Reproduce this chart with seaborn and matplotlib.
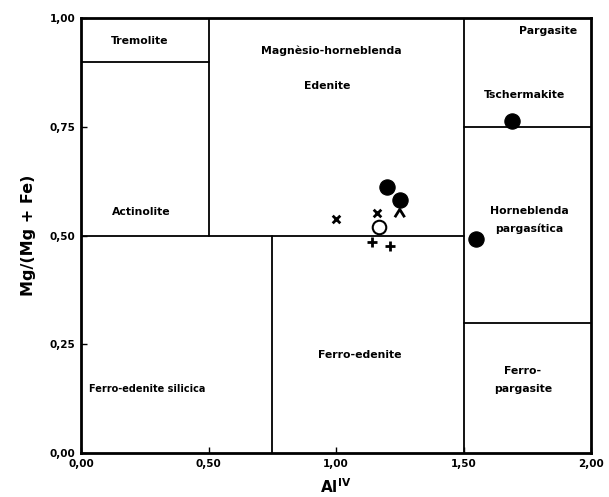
import matplotlib
matplotlib.use("Agg")
import matplotlib.pyplot as plt
import seaborn as sns
import pandas as pd
from matplotlib.path import Path

# --- data ---
filled_x = [1.20, 1.25, 1.55, 1.69]
filled_y = [0.612, 0.581, 0.491, 0.764]
open_x = [1.17]
open_y = [0.520]
cross_x = [1.00, 1.16]
cross_y = [0.538, 0.551]
plus_x = [1.14, 1.21]
plus_y = [0.484, 0.477]
caret_x = [1.25]
caret_y = [0.551]

x_ticks = [0.0, 0.5, 1.0, 1.5, 2.0]
x_ticklabels = ["0,00", "0,50", "1,00", "1,50", "2,00"]
y_ticks = [0.0, 0.25, 0.5, 0.75, 1.0]
y_ticklabels = ["0,00", "0,25", "0,50", "0,75", "1,00"]

# field boundaries: (x0, x1, y0, y1)
boundaries = [
    (0.0, 0.5, 0.9, 0.9),
    (0.5, 0.5, 0.5, 1.0),
    (0.0, 1.5, 0.5, 0.5),
    (0.75, 0.75, 0.0, 0.5),
    (1.5, 1.5, 0.0, 1.0),
    (1.5, 2.0, 0.75, 0.75),
    (1.5, 2.0, 0.3, 0.3),
]

field_names = ["Tremolite", "Magnèsio-horneblenda", "Edenite", "Pargasite",
               "Tschermakite", "Actinolite", "Horneblenda\npargasítica",
               "Ferro-edenite silicica", "Ferro-edenite", "Ferro-\npargasite"]
field_x = [0.23, 0.98, 0.965, 1.83, 1.74, 0.235, 1.757, 0.26, 1.094, 1.733]
field_y = [0.946, 0.924, 0.844, 0.970, 0.823, 0.554, 0.536, 0.147, 0.225, 0.168]
field_size = [7.8, 7.8, 7.8, 7.8, 7.8, 7.8, 7.8, 7.0, 7.8, 7.8]

sns.set_theme(style="white")
plt.rcParams['font.family'] = ['DejaVu Sans']
plt.rcParams['text.color'] = 'black'
plt.rcParams['axes.labelcolor'] = 'black'
plt.rcParams['xtick.color'] = 'black'
plt.rcParams['ytick.color'] = 'black'

fig = plt.figure(figsize=(6.09, 4.97), dpi=100)
ax = fig.add_axes([81/609, 44/497, 510/609, 435/497])

df_f = pd.DataFrame({"x": filled_x, "y": filled_y})
df_o = pd.DataFrame({"x": open_x, "y": open_y})
df_c = pd.DataFrame({"x": cross_x, "y": cross_y})
df_p = pd.DataFrame({"x": plus_x, "y": plus_y})
df_k = pd.DataFrame({"x": caret_x, "y": caret_y})

for (x0, x1, y0, y1) in boundaries:
    ax.plot([x0, x1], [y0, y1], color="black", lw=1.3, zorder=2)

sns.scatterplot(data=df_f, x="x", y="y", ax=ax, marker="o", s=120,
                color="black", edgecolor="black", zorder=3)
sns.scatterplot(data=df_o, x="x", y="y", ax=ax, marker="o", s=95,
                facecolor="white", edgecolor="black", linewidth=1.5, zorder=3)
sns.scatterplot(data=df_c, x="x", y="y", ax=ax, marker="x", s=30,
                color="black", linewidth=2.0, zorder=3)
sns.scatterplot(data=df_p, x="x", y="y", ax=ax, marker="+", s=45,
                color="black", linewidth=2.0, zorder=3)
caret = Path([(-1, -0.8), (0, 0.8), (1, -0.8)],
             [Path.MOVETO, Path.LINETO, Path.LINETO])
sns.scatterplot(data=df_k, x="x", y="y", ax=ax, marker=caret, s=50,
                facecolor="none", edgecolor="black", linewidth=2.0, zorder=3)

for name, fx, fy, fs in zip(field_names, field_x, field_y, field_size):
    ax.text(fx, fy, name, ha="center", va="center", fontsize=fs,
            fontweight="bold", linespacing=1.9, color="black")

ax.set_xlim(0, 2.0)
ax.set_ylim(0, 1.0)
ax.set_xticks(x_ticks)
ax.set_xticklabels(x_ticklabels, fontsize=7.5, fontweight="bold")
ax.set_yticks(y_ticks)
ax.set_yticklabels(y_ticklabels, fontsize=7.5, fontweight="bold")
ax.tick_params(direction="in", length=4, width=1, pad=4,
               bottom=True, left=True)
ax.set_xlabel(r"Al$^{\mathbf{IV}}$", fontsize=11, fontweight="bold", labelpad=6)
ax.set_ylabel("Mg/(Mg + Fe)", fontsize=11.5, fontweight="bold", labelpad=10)
for sp in ax.spines.values():
    sp.set_color("black")
    sp.set_linewidth(2.0)

fig.savefig("out.png", dpi=100)
